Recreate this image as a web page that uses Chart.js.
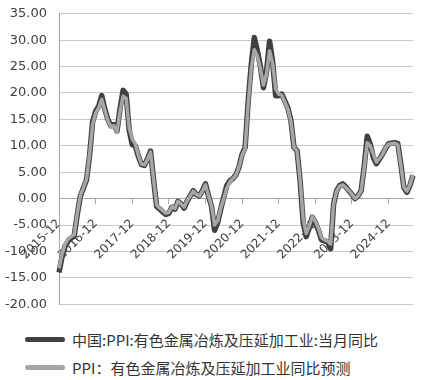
<!DOCTYPE html>
<html>
<head>
<meta charset="utf-8">
<script src="https://cdn.jsdelivr.net/npm/chart.js@4.4.1/dist/chart.umd.min.js"></script>
<style>
  body { margin: 0; background: #fff; }
  #wrap { position: relative; width: 427px; height: 380px; overflow: hidden; }
  #chart { position: absolute; left: 0; top: -6px; }
  .legend-row {
    position: absolute; left: 25px; height: 20px;
    display: flex; align-items: center;
    font-family: "Noto Sans CJK SC", "Noto Sans", sans-serif;
    font-size: 15px; color: #333;
  }
  .legend-line { width: 40px; height: 5px; border-radius: 3px; margin-right: 7px; }
</style>
</head>
<body>
<div id="wrap">
  <canvas id="chart" width="427" height="330"></canvas>
  <div class="legend-row" style="top:329px"><span class="legend-line" style="background:#404040"></span>中国:PPI:有色金属冶炼及压延加工业:当月同比</div>
  <div class="legend-row" style="top:357px"><span class="legend-line" style="background:#a6a6a6"></span>PPI：有色金属冶炼及压延加工业同比预测</div>
</div>
<script>
// Data: monthly, 2015-12 .. 2025-08
const startYear = 2015;
const startMonth = 12;
const monthCount = 117;

const yTicks = [-20, -15, -10, -5, 0, 5, 10, 15, 20, 25, 30, 35];

// 中国:PPI:有色金属冶炼及压延加工业:当月同比
const actual = [
  -14.0,
  -11.0, -9.0, -8.0, -7.5, -7.0, -3.0, 0.5, 2.0, 3.5, 8.0, 14.5, 16.5,
  17.5, 19.5, 17.0, 15.0, 13.8, 14.0, 12.8, 17.0, 20.5, 19.8, 13.0, 10.2,
  10.0, 8.0, 6.5, 6.3, 7.5, 9.0, 3.5, -1.5, -2.0, -2.5, -3.0, -2.8,
  -1.6, -2.0, -0.5, -1.0, -1.8, -0.5, 0.5, 1.5, 0.8, 0.5, 1.5, 2.8,
  0.5, -1.5, -6.0, -4.5, -2.0, 0.3, 2.5, 3.4, 3.8, 4.5, 6.0, 8.4,
  9.7, 18.5, 25.4, 30.5, 28.0, 25.0, 21.0, 24.0, 29.8, 26.0, 19.5, 19.5,
  19.8, 18.5, 17.2, 14.8, 9.7, 9.1, 3.4, -4.5, -7.2, -5.5, -3.5, -4.5,
  -6.0, -7.8, -8.0, -8.2, -9.5, -1.0, 1.5, 2.5, 2.8, 2.2, 1.5, 0.8,
  0.0, 0.5, 1.5, 6.0, 11.8, 10.3, 7.8, 6.6, 7.5, 8.4, 9.5, 10.4,
  10.5, 10.6, 10.4, 6.6, 2.1, 1.2, 2.5, 4.4
];

// PPI：有色金属冶炼及压延加工业同比预测
const forecast = [
  -13.2,
  -10.5, -8.6, -7.6, -7.2, -6.8, -2.8, 0.6, 2.1, 3.6, 8.2, 14.0, 16.2,
  17.2, 18.8, 16.8, 14.8, 13.6, 13.8, 12.6, 16.5, 19.4, 19.0, 13.4, 11.3,
  10.4, 8.2, 6.6, 6.4, 7.4, 8.8, 3.6, -1.2, -1.8, -2.3, -2.8, -2.6,
  -1.5, -1.9, -0.5, -1.0, -1.6, -0.4, 0.5, 1.4, 0.8, 0.5, 1.4, 2.6,
  0.5, -1.4, -5.0, -4.2, -1.8, 0.0, 2.0, 3.2, 3.8, 4.5, 6.0, 8.2,
  9.5, 18.0, 24.6, 28.2, 27.0, 24.6, 21.5, 23.6, 28.0, 25.6, 20.8, 19.8,
  19.6, 18.3, 17.0, 14.6, 9.8, 9.0, 3.6, -3.8, -6.6, -5.2, -3.4, -4.3,
  -5.6, -7.4, -7.8, -8.0, -8.6, -1.0, 1.4, 2.4, 2.6, 2.1, 1.5, 0.8,
  0.0, 0.5, 1.5, 5.8, 10.6, 10.0, 8.4, 6.9, 7.6, 8.4, 9.6, 10.3,
  10.4, 10.5, 10.2, 6.4, 2.2, 1.4, 2.6, 4.5
];

// month labels
const labels = [];
for (let i = 0; i < monthCount; i++) {
  const m = ((startMonth - 1 + i) % 12) + 1;
  const y = startYear + Math.floor((startMonth - 1 + i) / 12);
  labels.push(y + "-" + (m < 10 ? "0" + m : m));
}

const axisColor = "#a6a6a6";
const textColor = "#404040";

new Chart(document.getElementById("chart"), {
  type: "line",
  data: {
    labels: labels,
    datasets: [
      {
        label: "中国:PPI:有色金属冶炼及压延加工业:当月同比",
        data: actual,
        borderColor: "#404040",
        borderWidth: 5.5,
        pointRadius: 0,
        tension: 0,
        borderJoinStyle: "round",
        order: 2,
      },
      {
        label: "PPI：有色金属冶炼及压延加工业同比预测",
        data: forecast,
        borderColor: "#a6a6a6",
        borderWidth: 3.5,
        pointRadius: 0,
        tension: 0,
        borderJoinStyle: "round",
        order: 1,
      },
    ],
  },
  options: {
    responsive: false,
    animation: false,
    layout: {
      padding: { top: 6, right: 14, bottom: 0, left: 0 },
    },
    plugins: {
      legend: { display: false },
      tooltip: { enabled: false },
    },
    scales: {
      x: {
        type: "category",
        position: { y: 0 },
        offset: false,
        grid: {
          drawOnChartArea: false,
          drawTicks: true,
          tickLength: 5,
          color: axisColor,
        },
        border: { color: axisColor },
        ticks: {
          autoSkip: false,
          minRotation: 45,
          maxRotation: 45,
          padding: 13,
          color: textColor,
          font: { family: "DejaVu Sans", size: 12 },
          callback: function (value) {
            const lab = this.getLabelForValue(value);
            return lab.endsWith("-12") ? lab : null;
          },
        },
      },
      y: {
        min: yTicks[0],
        max: yTicks[yTicks.length - 1],
        afterBuildTicks: function (scale) {
          scale.ticks = yTicks.map(function (v) { return { value: v }; });
        },
        afterFit: function (scale) {
          scale.width = 59;
        },
        grid: { color: "#c8c8c8", drawTicks: false },
        border: { color: axisColor },
        ticks: {
          padding: 12,
          color: textColor,
          font: { family: "DejaVu Sans", size: 13 },
          callback: function (value) {
            return value.toFixed(2);
          },
        },
      },
    },
  },
});
</script>
</body>
</html>
